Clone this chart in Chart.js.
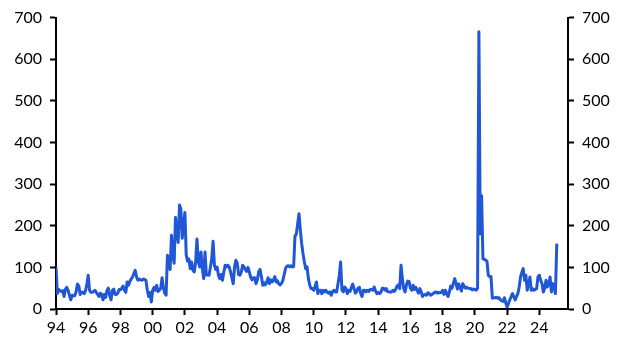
<!DOCTYPE html>
<html>
<head>
<meta charset="utf-8">
<script src="https://cdn.jsdelivr.net/npm/chart.js@4/dist/chart.umd.min.js"></script>
<style>
  html, body { margin: 0; padding: 0; background: #ffffff; }
  #wrap { width: 630px; height: 354px; }
</style>
</head>
<body>
<div id="wrap"><canvas id="c" width="630" height="354"></canvas></div>
<script>
// Monthly series starting January 1994
const startYear = 1994;
const values1990s = [
  100, 37, 47, 44, 42, 44, 30, 47, 52, 45, 33, 22,   // 1994
  33, 32, 32, 42, 60, 55, 35, 40, 40, 37, 44, 60,    // 1995
  81, 45, 40, 40, 42, 45, 40, 35, 30, 38, 35, 22,    // 1996
  35, 28, 45, 50, 32, 22, 45, 48, 35, 35, 38, 47,    // 1997
  46, 50, 55, 45, 40, 65, 57, 66, 72, 77, 85, 93,    // 1998
  77, 69, 72, 70, 69, 72, 71, 69, 45, 30, 40, 17     // 1999
];
const values2000s = [
  45, 52, 45, 57, 42, 45, 50, 75, 50, 38, 33, 129,   // 2000
  120, 95, 177, 130, 110, 220, 185, 160, 250, 240, 170, 200, // 2001
  232, 130, 115, 120, 97, 113, 93, 89, 113, 168, 113, 101,   // 2002
  137, 97, 73, 137, 81, 83, 81, 100, 120, 163, 105, 95,      // 2003
  101, 81, 73, 83, 69, 89, 105, 101, 105, 101, 89, 75,       // 2004
  61, 101, 117, 110, 83, 81, 89, 105, 101, 95, 90, 100,      // 2005
  89, 76, 70, 75, 75, 61, 70, 90, 95, 78, 57, 63,            // 2006
  58, 65, 75, 61, 70, 65, 70, 78, 65, 68, 60, 58,            // 2007
  62, 69, 83, 98, 103, 104, 101, 104, 101, 102, 175, 180,    // 2008
  205, 229, 189, 157, 133, 113, 97, 101, 73, 57, 49, 49      // 2009
];
const values2010s = [
  45, 55, 65, 37, 45, 45, 37, 45, 41, 45, 40, 38,    // 2010
  41, 33, 42, 45, 41, 41, 60, 80, 113, 45, 41, 53,   // 2011
  49, 37, 45, 42, 52, 60, 49, 38, 42, 50, 52, 37,    // 2012
  30, 45, 45, 41, 45, 42, 47, 47, 45, 53, 43, 37,    // 2013
  40, 37, 40, 50, 50, 45, 49, 42, 41, 41, 41, 45,    // 2014
  42, 47, 55, 58, 49, 105, 73, 49, 41, 57, 67, 66,   // 2015
  50, 45, 57, 47, 52, 45, 38, 49, 42, 30, 34, 35,    // 2016
  33, 39, 37, 33, 35, 37, 40, 41, 38, 40, 39, 40,    // 2017
  45, 35, 45, 38, 30, 41, 55, 50, 62, 73, 61, 48,    // 2018
  60, 52, 43, 61, 55, 50, 52, 50, 49, 49, 46, 48     // 2019
];
const values2020s = [
  47, 45, 50, 666, 180, 272, 120, 120, 117, 115, 81, 78,  // 2020
  78, 26, 27, 27, 28, 26, 27, 22, 20, 18, 27, 15,         // 2021
  5, 13, 22, 29, 37, 30, 22, 30, 37, 53, 77, 88,          // 2022
  97, 69, 81, 45, 60, 77, 45, 49, 45, 47, 49, 77,         // 2023
  81, 69, 61, 41, 50, 69, 53, 60, 77, 41, 61, 53,         // 2024
  37, 157                                                 // 2025
];
const xTickYears = [1994, 1996, 1998, 2000, 2002, 2004, 2006, 2008, 2010, 2012, 2014, 2016, 2018, 2020, 2022, 2024];
const yTickValues = [0, 100, 200, 300, 400, 500, 600, 700];

const allValues = values1990s.concat(values2000s, values2010s, values2020s);
const points = allValues.map((v, i) => ({ x: startYear + i / 12, y: v }));

const FONT = { family: 'Lato, "Open Sans", sans-serif', size: 16 };
const black = '#000000';

function yAxis(pos, width) {
  return {
    type: 'linear',
    position: pos,
    min: 0,
    max: 700,
    afterBuildTicks: s => { s.ticks = yTickValues.map(v => ({ value: v })); },
    afterFit: s => { s.width = width; },
    ticks: { color: black, font: FONT, padding: 8 },
    grid: { display: true, drawOnChartArea: false, drawTicks: true, tickLength: 6, tickColor: black, tickWidth: 2 },
    border: { display: true, color: black, width: 2 }
  };
}

new Chart(document.getElementById('c'), {
  type: 'line',
  data: {
    datasets: [{
      data: points,
      borderColor: '#1f57d6',
      borderWidth: 3,
      pointRadius: 0,
      tension: 0,
      fill: false,
      borderJoinStyle: 'round'
    }]
  },
  options: {
    responsive: false,
    animation: false,
    devicePixelRatio: 1,
    layout: { padding: { top: 16, left: 0, right: 0, bottom: 0 } },
    plugins: { legend: { display: false }, tooltip: { enabled: false } },
    scales: {
      x: {
        type: 'linear',
        min: 1994,
        max: 2025.78,
        afterBuildTicks: s => { s.ticks = xTickYears.map(v => ({ value: v })); },
        afterFit: s => { s.height = 45; },
        ticks: {
          color: black, font: FONT, padding: 3, maxRotation: 0, autoSkip: false,
          callback: v => String(v % 100).padStart(2, '0')
        },
        grid: { display: true, drawOnChartArea: false, drawTicks: true, tickLength: 6, tickColor: black, tickWidth: 2 },
        border: { display: true, color: black, width: 2 }
      },
      y: yAxis('left', 56),
      y2: yAxis('right', 62)
    }
  }
});
</script>
</body>
</html>
